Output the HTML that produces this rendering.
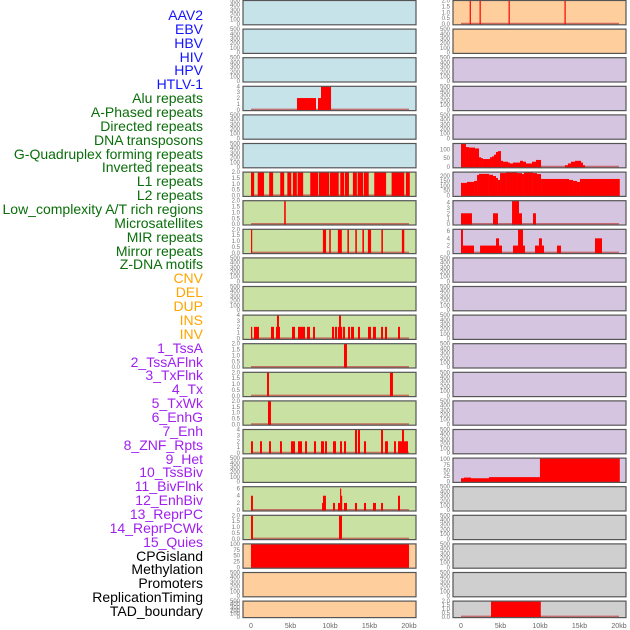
<!DOCTYPE html>
<html><head><meta charset="utf-8">
<style>
html,body{margin:0;padding:0;background:#fff;}
body{width:630px;height:630px;overflow:hidden;position:relative;font-family:"Liberation Sans",sans-serif;}
#labels{position:absolute;left:0;top:0;width:203px;height:630px;}
.lab{position:absolute;right:0;font-size:14px;line-height:14px;white-space:nowrap;text-align:right;}
svg{position:absolute;left:0;top:0;}
</style></head>
<body>
<div id="labels"></div>
<svg id="chart" width="630" height="630"></svg>
<script>
// ---- labels ----
const labelNames = ["AAV2","EBV","HBV","HIV","HPV","HTLV-1","Alu repeats","A-Phased repeats","Directed repeats","DNA transposons","G-Quadruplex forming repeats","Inverted repeats","L1 repeats","L2 repeats","Low_complexity A/T rich regions","Microsatellites","MIR repeats","Mirror repeats","Z-DNA motifs","CNV","DEL","DUP","INS","INV","1_TssA","2_TssAFlnk","3_TxFlnk","4_Tx","5_TxWk","6_EnhG","7_Enh","8_ZNF_Rpts","9_Het","10_TssBiv","11_BivFlnk","12_EnhBiv","13_ReprPC","14_ReprPCWk","15_Quies","CPGisland","Methylation","Promoters","ReplicationTiming","TAD_boundary"];
const labelGroups = [0,0,0,0,0,0,1,1,1,1,1,1,1,1,1,1,1,1,1,2,2,2,2,2,3,3,3,3,3,3,3,3,3,3,3,3,3,3,3,4,4,4,4,4];
const groupColors = ["#1414ff","#0a6e0a","#ffa500","#a020f0","#000000"];

// ---- chart data ----
const xTickValues = [0,5,10,15,20];
const xTickLabels = ["0","5kb","10kb","15kb","20kb"];
const ticksEmpty = [0,100,200,300,400,500];
const ticks2 = [0,0.5,1,1.5,2];
const ticks4 = [0,1,2,3,4];
const ticks6 = [0,2,4,6];
const ticks100 = [0,25,50,75,100];
const ticksGQ = [0,50,100];
const ticksL1 = [0,50,100,150,200];

const aluBars = [[5.82,8.23,2],[8.48,8.86,2],[8.86,10.13,4]];
const l1LeftBars = [[0,0.4,2],[0.85,1.65,2],[2.3,2.8,2],[3.7,4.2,2],[4.6,5.1,2],[5.3,5.8,2],[5.9,6.6,2],[7.5,8.5,2],[8.6,9.9,2],[10,11.1,2],[11.3,11.8,2],[11.9,12.4,2],[12.9,13.4,2],[13.5,14.2,2],[14.3,14.9,2],[15.6,17.1,2],[17.8,19.4,2],[19.6,20.1,2]];
const lowcLeftBars = [[4.2,4.4,2]];
const mirLeftBars = [[0,0.15,2],[9.1,9.5,2],[9.9,10.1,2],[11,11.5,2],[12.2,12.4,2],[13.2,13.4,2],[14.1,14.3,2],[14.8,15.2,2],[16.5,16.7,2],[19.1,19.4,2]];
const insBars = [[0,0.13,2],[0.38,0.63,2],[0.63,1.01,2],[2.53,2.91,2],[3.16,3.42,2],[3.29,3.54,4],[3.42,3.67,2],[5.19,5.57,2],[5.95,6.33,2],[6.33,6.84,2],[7.09,7.47,2],[7.85,8.1,2],[10.25,10.51,2],[10.63,10.89,2],[11.01,11.14,2],[11.14,11.39,4],[11.39,11.52,2],[11.65,11.9,2],[12.28,12.53,2],[12.66,13.04,2],[13.54,13.8,2],[14.81,15.19,2],[15.44,15.82,2],[16.46,16.71,2],[16.96,17.22,2],[18.61,18.86,2]];
const tssABars = [[11.77,12.15,2]];
const tssFlnkBars = [[2.03,2.28,2],[17.59,17.97,2]];
const txFlnkBars = [[2.15,2.53,2]];
const enhBars = [[0,0.25,2],[1.14,1.39,2],[2.28,2.53,2],[3.67,3.92,2],[5.06,5.57,2],[5.95,6.46,2],[6.84,7.09,2],[7.97,8.23,2],[8.86,9.24,2],[9.37,9.62,2],[10.38,10.76,2],[11.27,11.52,2],[11.77,12.03,2],[13.16,13.42,4],[13.54,13.8,4],[14.3,14.56,2],[16.46,16.71,4],[16.96,17.34,2],[18.1,18.35,2],[18.61,19.11,2],[19.11,19.37,4],[19.37,19.87,2]];
const enhBivBars = [[0,0.25,4],[8.99,9.11,2],[9.11,9.49,4],[10.38,10.63,2],[11.01,11.27,2],[11.27,11.39,6],[11.39,11.52,4],[11.77,12.15,2],[13.16,13.42,2],[14.3,14.56,2],[15.44,15.82,2],[16.46,16.71,2],[18.61,18.86,4]];
const reprBars = [[0,0.25,2],[11.14,11.52,2]];
const cpgBars = [[0,20,100]];
const aavBars = [[1.1,1.25,2],[2.35,2.5,2],[6.02,6.17,2],[13.1,13.25,2]];
const gquadBars = [[0,0.63,130],[0.63,1.01,113],[1.01,1.77,110],[1.77,2.28,105],[2.28,2.53,55],[2.53,2.78,50],[2.78,3.67,45],[3.67,3.92,55],[3.92,4.18,60],[4.18,4.43,70],[4.43,4.68,85],[4.68,5.06,90],[5.06,5.32,35],[5.32,5.95,30],[5.95,6.2,25],[6.2,6.58,20],[6.58,7.47,25],[7.47,7.85,35],[7.85,8.23,30],[8.23,8.99,20],[8.99,9.49,30],[9.49,10.13,40],[13.16,13.54,10],[13.54,13.92,20],[13.92,14.43,30],[14.43,15.19,35],[15.19,15.44,25],[15.44,15.7,10]];
const l1RightBars = [[0,0.76,130],[0.76,1.65,140],[1.65,2.03,150],[2.03,2.28,210],[2.28,3.54,222],[3.54,4.05,213],[4.05,4.43,200],[4.43,4.68,180],[4.68,4.94,160],[4.94,5.7,230],[5.7,7.09,240],[7.09,7.72,230],[7.72,7.97,220],[7.97,9.11,240],[9.11,9.62,230],[9.62,10.13,220],[10.13,13.67,170],[13.67,14.18,160],[14.18,14.68,150],[14.68,15.06,140],[15.06,20.1,170]];
const lowcRightBars = [[0,1.39,2],[4.05,4.68,2],[6.46,7.34,4.5],[7.34,7.72,2],[9.11,9.49,2]];
const mirRightBars = [[0,0.25,6.5],[0.25,1.65,2],[2.41,4.43,2],[4.43,4.81,4],[4.81,5.19,2],[6.58,7.22,2],[7.22,7.85,6.5],[7.85,8.1,2],[9.37,9.87,2],[9.87,10.25,4],[10.25,10.51,2],[12.15,12.66,2],[16.96,17.85,4]];
const hetBars = [[0,0.38,15],[0.38,1.27,18],[1.27,3.54,15],[3.54,9.99,20],[9.99,20.1,105]];
const tadBars = [[3.8,10.1,2]];

const BLUE="#c7e3ea", GREEN="#c9e1a2", ORANGE="#fecf9d", PURPLE="#d5c5e1", GRAY="#cfcfcf";
// [col,row,bg,ymax,ticks,bars,name]
const panels = [
 [0,0,BLUE,500,ticksEmpty,null,"left-track-1"],[0,1,BLUE,500,ticksEmpty,null,"left-track-2"],[0,2,BLUE,500,ticksEmpty,null,"left-track-3"],
 [0,3,BLUE,4,ticks4,aluBars,"alu-track"],[0,4,BLUE,500,ticksEmpty,null,"left-track-5"],[0,5,BLUE,500,ticksEmpty,null,"left-track-6"],
 [0,6,GREEN,2,ticks2,l1LeftBars,"l1-left-track"],[0,7,GREEN,2,ticks2,lowcLeftBars,"lowc-left-track"],[0,8,GREEN,2,ticks2,mirLeftBars,"mir-left-track"],
 [0,9,GREEN,500,ticksEmpty,null,"left-track-10"],[0,10,GREEN,500,ticksEmpty,null,"left-track-11"],[0,11,GREEN,4,ticks4,insBars,"ins-track"],
 [0,12,GREEN,2,ticks2,tssABars,"tssa-track"],[0,13,GREEN,2,ticks2,tssFlnkBars,"tssaflnk-track"],[0,14,GREEN,2,ticks2,txFlnkBars,"txflnk-track"],
 [0,15,GREEN,4,ticks4,enhBars,"enh-track"],[0,16,GREEN,500,ticksEmpty,null,"left-track-17"],[0,17,GREEN,6.5,ticks6,enhBivBars,"enhbiv-track"],
 [0,18,GREEN,2,ticks2,reprBars,"repr-track"],[0,19,ORANGE,100,ticks100,cpgBars,"cpg-track"],[0,20,ORANGE,500,ticksEmpty,null,"left-track-21"],[0,21,ORANGE,500,ticksEmpty,null,"left-track-22"],
 [1,0,ORANGE,2,ticks2,aavBars,"aav2-track"],[1,1,ORANGE,500,ticksEmpty,null,"right-track-2"],[1,2,PURPLE,500,ticksEmpty,null,"right-track-3"],
 [1,3,PURPLE,500,ticksEmpty,null,"right-track-4"],[1,4,PURPLE,500,ticksEmpty,null,"right-track-5"],[1,5,PURPLE,133,ticksGQ,gquadBars,"gquad-track"],
 [1,6,PURPLE,240,ticksL1,l1RightBars,"l1-right-track"],[1,7,PURPLE,4.3,ticks4,lowcRightBars,"lowc-right-track"],[1,8,PURPLE,6.5,ticks6,mirRightBars,"mir-right-track"],
 [1,9,PURPLE,500,ticksEmpty,null,"right-track-10"],[1,10,PURPLE,500,ticksEmpty,null,"right-track-11"],[1,11,PURPLE,500,ticksEmpty,null,"right-track-12"],
 [1,12,PURPLE,500,ticksEmpty,null,"right-track-13"],[1,13,PURPLE,500,ticksEmpty,null,"right-track-14"],[1,14,PURPLE,500,ticksEmpty,null,"right-track-15"],
 [1,15,PURPLE,500,ticksEmpty,null,"right-track-16"],[1,16,PURPLE,105,ticks100,hetBars,"het-track"],[1,17,GRAY,500,ticksEmpty,null,"right-track-18"],
 [1,18,GRAY,500,ticksEmpty,null,"right-track-19"],[1,19,GRAY,500,ticksEmpty,null,"right-track-20"],[1,20,GRAY,500,ticksEmpty,null,"right-track-21"],
 [1,21,GRAY,2,ticks2,tadBars,"tad-track"]
];

// ---- render labels ----
const labDiv = document.getElementById('labels');
labelNames.forEach((t,i)=>{
  const d = document.createElement('div');
  d.className='lab';
  d.style.top = (8 + i*13.86) + 'px';
  d.style.color = groupColors[labelGroups[i]];
  d.textContent = t;
  
  
  labDiv.appendChild(d);
});

// ---- render chart ----
const NS="http://www.w3.org/2000/svg";
const svg=document.getElementById('chart');
const colX=[243,453], boxW=173;
function rowTop(r){return 28.6*r+0.5;}
function rowH(r){return r===21?16.5:24.3;}
function xScale(col,kb){return colX[col]+8+kb*7.9;}
function yScale(r,ymax,v){const t=rowTop(r),h=rowH(r);return t+h-0.8 - Math.min(v,ymax)/ymax*(h-0.8);}
function mk(tag,attrs){const e=document.createElementNS(NS,tag);for(const k in attrs)e.setAttribute(k,attrs[k]);return e;}

panels.forEach(p=>{
  const [col,r,bg,ymax,ticks,bars,name]=p;
  const g=mk('g',{});
  
  
  const t=rowTop(r),h=rowH(r);
  const bgr=mk('rect',{x:colX[col],y:t,width:boxW,height:h,fill:bg});
  
  
  g.appendChild(bgr);
  if(bars){
    const base=mk('line',{x1:xScale(col,0),x2:xScale(col,20),y1:t+h-1.2,y2:t+h-1.2,stroke:'#c04040','stroke-width':1.6,'stroke-opacity':0.7});
    
    
    g.appendChild(base);
    bars.forEach(b=>{
      const x1=xScale(col,b[0]),x2=xScale(col,b[1]);
      const y=yScale(r,ymax,b[2]);
      const rc=mk('rect',{x:x1,y:y,width:Math.max(x2-x1,1.2),height:t+h-y,fill:'#ff0000'});
      
      
      g.appendChild(rc);
    });
  }
  const border=mk('rect',{x:colX[col],y:t,width:boxW,height:h,fill:'none',stroke:'#555','stroke-width':1.2});
  
  
  g.appendChild(border);
  ticks.forEach(v=>{
    const tx=mk('text',{x:colX[col]-3,y:yScale(r,ymax,v)+2,'text-anchor':'end','font-size':6,fill:'#777','font-family':'Liberation Sans, sans-serif'});
    tx.textContent = (ticks===ticks2)? v.toFixed(1) : String(v);
    
    
    g.appendChild(tx);
  });
  svg.appendChild(g);
});

[0,1].forEach(col=>{
  xTickValues.forEach((v,i)=>{
    const tx=mk('text',{x:xScale(col,v),y:628,'text-anchor':'middle','font-size':7,fill:'#666','font-family':'Liberation Sans, sans-serif'});
    tx.textContent=xTickLabels[i];
    
    
    svg.appendChild(tx);
  });
});
</script>
</body></html>
